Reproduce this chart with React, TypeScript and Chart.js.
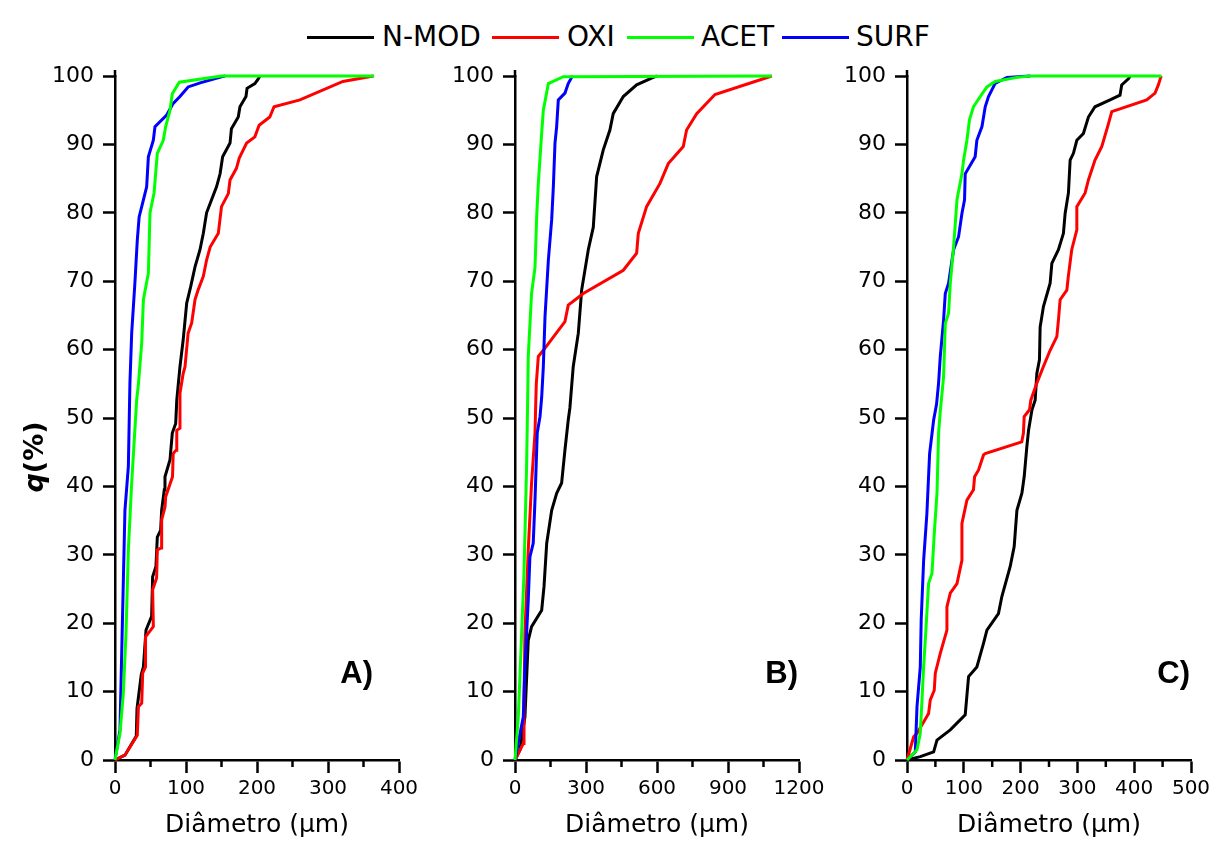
import React, { useEffect, useRef } from "react";
import { Chart, registerables } from "chart.js";

Chart.register(...registerables);

// ---------- data (diameter µm, cumulative q %) ----------
const SERIES_NAMES = ["N-MOD", "OXI", "ACET", "SURF"];
const SERIES_COLORS = ["#000000", "#ff0000", "#00ff00", "#0000ff"];

const A_NMOD = [[0,0],[14,0.7],[30,3.5],[31,7.5],[37,12.5],[40,13.6],[43.7,19],[51.6,21],[53,26.8],[57.7,28.3],[59.6,32.6],[64.3,33.6],[65.7,36.5],[69.4,39.5],[70.4,41.4],[77.5,43.9],[80.7,47.8],[85.5,49.2],[87,52.6],[91.5,57.5],[96,61.4],[101,66.8],[106.6,69.2],[112.7,72.1],[119.7,74.6],[124.4,77],[129,80],[136,81.9],[143,83.8],[148,85.7],[151.6,88.2],[162,90.2],[164,92.3],[173.6,94],[176,95.5],[184.5,97],[186,98.2],[197,98.9],[202,99.6],[204,100]];
const A_OXI = [[0,0],[14,0.7],[31.4,3.6],[33,7.8],[37.6,8.3],[39,12.7],[43,13.6],[43,18],[54,19.5],[53,24.9],[58.6,26.6],[59.6,30.7],[64.8,31],[65.7,35.1],[70.4,37],[71.4,38.5],[81,41.4],[82,44.8],[86,45.3],[87,48.2],[91.5,48.5],[91.5,53.6],[96,56.5],[98.6,57.5],[103,62.4],[108,63.9],[112.7,67.3],[117,68.7],[124.4,70.7],[129,73.1],[134,75],[145.5,77],[150,80.9],[159.6,82.8],[162,84.8],[171,86.5],[175,88],[185.4,90.2],[197,91.1],[203,92.8],[218,94],[224,95.5],[260.5,96.5],[321,99.2],[364,100]];
const A_ACET = [[0,0],[7,3.9],[11.7,9.7],[15.5,18.5],[18.8,30.7],[23.5,40.5],[30.5,52.6],[33,55],[37.6,60.9],[40,67.3],[47,71.2],[49.3,80],[55,82.9],[59.6,88.7],[68,90.6],[71.4,92.6],[77.5,95],[80.7,97.4],[90.6,99.1],[150,100],[365,100]];
const A_SURF = [[0,0],[7,4.4],[14,36.5],[18.8,42.9],[21,55],[23.5,62.4],[28,69.7],[31.4,76],[34,79.4],[40,81.9],[44.6,83.8],[47,88.2],[54,90.6],[56.3,92.6],[72.8,94.3],[82,96],[91.5,97],[103,98.4],[120,99],[150,99.9],[155,100]];

const B_NMOD = [[0,0],[21,1.5],[42,6.3],[56,17.5],[70,19.5],[112.7,21.9],[122.5,25.3],[134,31.7],[155,36.5],[176,39],[197,40.5],[211,45.3],[225,49.7],[232,51.5],[246,57.5],[267.5,62.4],[281.6,68.7],[309.7,74.6],[330.8,77.9],[345,85.3],[373,89.2],[401,92.1],[415,94.5],[457.6,97],[514,98.7],[584,99.8],[600,100]];
const B_OXI = [[0,0],[35,2.4],[38,8.8],[42,18.5],[56,30.7],[70,40.5],[84.5,47.8],[88,52.6],[90,55],[98.6,59],[119.7,59.9],[211,64.1],[225,66.5],[288.6,68.2],[457.6,71.6],[514,74.1],[521,77],[556,80.9],[612.6,84.3],[647.7,87.2],[711,89.7],[725,92.1],[767.7,94.5],[845,97.3],[1085,100]];
const B_ACET = [[0,0],[14,6.3],[28,18.5],[38,27.3],[49,42.9],[53.5,52.6],[56,59],[70,68.2],[84.5,72],[91.5,79.4],[98.6,84.3],[112.7,91.6],[119.7,95],[141,98.9],[204,99.9],[1085,100]];
const B_SURF = [[0,0],[35,6.3],[42,13.6],[56,23.4],[63,29.7],[77,31.7],[84.5,38],[94,47.8],[105.6,50.2],[112.7,53],[119.7,57.5],[126.8,64.8],[141,73.1],[155,79],[162,83.8],[169,90.2],[176,92.6],[183,96.5],[211,97.5],[225,98.9],[239.5,99.8],[245,100]];

const C_NMOD = [[0,0],[23.4,0.5],[46.9,1.2],[52.8,2.9],[76.2,4.4],[102.5,6.6],[108.4,12.2],[123,13.6],[134.8,17.1],[140.7,19],[161,21.4],[167,23.9],[181.7,28.3],[188.7,31.2],[193.5,36.5],[202.3,39],[206.3,41.4],[211,45.8],[214,48.2],[220,51.2],[225.6,52.6],[228.6,56.5],[233.2,58.5],[234.4,63.3],[240.2,66.3],[252,69.7],[255,72.6],[266.6,74.6],[275.4,77],[278.4,79.9],[284.2,82.9],[287.2,87.7],[293,88.7],[299,90.6],[310.6,91.6],[319.4,94],[331,95.5],[357.5,96.5],[375,97.2],[378,98.7],[389.8,99.6],[393,100]];
const C_OXI = [[0,0],[11.7,3.4],[17.6,3.9],[38,6.8],[41,8.8],[48,10.2],[49.8,12.7],[58.6,15.6],[70.3,19],[70.3,22.4],[76.2,24.4],[88,25.8],[96.7,29.2],[96.7,34.6],[105.5,38],[117,39.5],[119,41.4],[126,42.4],[134.7,44.6],[137.7,44.8],[202,46.5],[205,47.8],[206.3,50.2],[215.7,51.2],[218,52.6],[228.6,55.1],[240,57.5],[252,59.9],[263.8,61.9],[266.6,64.3],[269.6,67.3],[281.4,68.7],[284,70.7],[290,74.6],[299,77.5],[299,80.9],[313.6,82.9],[319.4,84.8],[331,87.7],[343,89.7],[354.6,93],[360.5,94.8],[422,96.5],[436.7,97.5],[442.5,98.7],[446.7,99.8],[448,100]];
const C_ACET = [[0,0],[17.6,1.5],[23.4,3.9],[29.3,13.6],[32.2,17.5],[38,25.8],[44,27.3],[48,33.1],[52.8,39],[55.6,47.8],[58.6,51],[64.4,56],[67.4,63.8],[73.2,65.3],[76.2,69.7],[82,75],[85,78.4],[88,81.9],[96.7,85.7],[99.6,87.7],[105.5,90.6],[110,93.6],[117,95.5],[129,97],[140.7,98.4],[155.3,99.2],[193.5,99.8],[217,100],[448,100]];
const C_SURF = [[0,0],[14.6,1.2],[17.6,7.8],[23.4,13.6],[25,20.5],[29.3,29.2],[35,36],[39.8,44.8],[46.9,49.7],[52,52],[55.6,55.1],[58.6,59],[64.4,64.3],[67.4,68.2],[73.2,69.7],[82,74.6],[90.8,76.5],[96.7,79.9],[101.3,81.9],[102.5,85.7],[120,88.2],[123,90.6],[132,92.6],[137.7,95.5],[143.5,97],[155,98.9],[175.9,99.8],[217,100]];

const X_MAX = [400, 1200, 500];
const X_STEP = [50, 150, 50];
const X_MAJOR = [100, 300, 100];
const Y_TICKS = { min: 0, max: 100, step: 10 };
const PANEL_LABELS = ["A)", "B)", "C)"];
const X_TITLE = "Diâmetro (µm)";

// ---------- layout ----------
const FONT = '"DejaVu Sans", sans-serif';
const PANELS = [
  { left: 0, width: 425, padLeft: 45, padRight: 26, labelRight: 373, data: [A_NMOD, A_OXI, A_ACET, A_SURF], yTitle: true },
  { left: 425, width: 405, padLeft: 20, padRight: 31, labelRight: 798, data: [B_NMOD, B_OXI, B_ACET, B_SURF], yTitle: false },
  { left: 830, width: 395, padLeft: 7, padRight: 34, labelRight: 1190, data: [C_NMOD, C_OXI, C_ACET, C_SURF], yTitle: false },
];
const DRAW_ORDER = [4, 3, 1, 2]; // lower = on top

const decoPlugin = {
  id: "deco",
  afterDraw(chart: any, _args: any, opts: any) {
    const { ctx, chartArea, scales } = chart;
    ctx.save();
    ctx.strokeStyle = "#000";
    ctx.lineWidth = 2.5;
    // y axis line slightly extends above the top tick
    ctx.beginPath();
    ctx.moveTo(chartArea.left, chartArea.top + 1);
    ctx.lineTo(chartArea.left, chartArea.top - 6);
    ctx.stroke();
    // minor ticks (shorter)
    scales.x.ticks.forEach((t: any) => {
      if (t.value % opts.major !== 0) {
        const px = scales.x.getPixelForValue(t.value);
        ctx.beginPath();
        ctx.moveTo(px, chartArea.bottom);
        ctx.lineTo(px, chartArea.bottom + 7);
        ctx.stroke();
      }
    });
    ctx.fillStyle = "#000";
    // x title
    ctx.font = `25px ${FONT}`;
    ctx.textAlign = "center";
    ctx.textBaseline = "middle";
    ctx.fillText(X_TITLE, (chartArea.left + chartArea.right) / 2, 825);
    // panel label
    ctx.font = 'bold 31px "Liberation Sans", Arial, sans-serif';
    ctx.textAlign = "right";
    ctx.textBaseline = "alphabetic";
    ctx.fillText(opts.label, opts.labelRight, 683);
    // y title
    if (opts.yTitle) {
      ctx.translate(36, 457);
      ctx.rotate(-Math.PI / 2);
      ctx.textBaseline = "middle";
      ctx.textAlign = "left";
      const f1 = `italic bold 27px ${FONT}`;
      const f2 = `bold 27px ${FONT}`;
      ctx.font = f1;
      const w1 = ctx.measureText("q").width;
      ctx.font = f2;
      const w2 = ctx.measureText("(%)").width;
      const x0 = -(w1 + w2) / 2;
      ctx.font = f1;
      ctx.fillText("q", x0, 0);
      ctx.font = f2;
      ctx.fillText("(%)", x0 + w1, 0);
    }
    ctx.restore();
  },
};

function makeConfig(i: number): any {
  const p = PANELS[i];
  const major = X_MAJOR[i];
  return {
    type: "line",
    data: {
      datasets: p.data.map((pts, k) => ({
        label: SERIES_NAMES[k],
        data: pts.map(([x, y]) => ({ x, y })),
        borderColor: SERIES_COLORS[k],
        backgroundColor: SERIES_COLORS[k],
        borderWidth: 3,
        pointRadius: 0,
        tension: 0,
        fill: false,
        clip: false,
        order: DRAW_ORDER[k],
      })),
    },
    options: {
      responsive: false,
      animation: false,
      devicePixelRatio: 1,
      layout: { padding: { left: p.padLeft, right: p.padRight, top: 76, bottom: 33 } },
      plugins: {
        legend: { display: false },
        tooltip: { enabled: false },
        deco: { major, label: PANEL_LABELS[i], labelRight: p.labelRight - p.left, yTitle: p.yTitle },
      },
      scales: {
        x: {
          type: "linear",
          min: 0,
          max: X_MAX[i],
          afterFit: (s: any) => { s.height = 50; },
          border: { display: true, color: "#000", width: 2.5 },
          grid: {
            display: true,
            drawOnChartArea: false,
            drawTicks: true,
            tickLength: 13,
            tickWidth: 2.5,
            tickColor: (c: any) => (c.tick && c.tick.value % major === 0 ? "#000" : "rgba(0,0,0,0)"),
          },
          ticks: {
            stepSize: X_STEP[i],
            autoSkip: false,
            maxRotation: 0,
            minRotation: 0,
            padding: 4,
            color: "#000",
            font: { family: FONT, size: 20 },
            callback: (v: any) => (v % major === 0 ? String(v) : ""),
          },
        },
        y: {
          type: "linear",
          min: Y_TICKS.min,
          max: Y_TICKS.max,
          afterFit: (s: any) => { s.width = 70; },
          border: { display: true, color: "#000", width: 2.5 },
          grid: {
            display: true,
            drawOnChartArea: false,
            drawTicks: true,
            tickLength: 12,
            tickWidth: 2.5,
            tickColor: "#000",
          },
          ticks: {
            stepSize: Y_TICKS.step,
            padding: 9,
            color: "#000",
            font: { family: FONT, size: 22 },
          },
        },
      },
    },
    plugins: [decoPlugin],
  };
}

const LEGEND_POS = [
  { line: 307, text: 382 },
  { line: 492, text: 567 },
  { line: 627, text: 701 },
  { line: 782, text: 856 },
];

export default function App() {
  const r0 = useRef<HTMLCanvasElement>(null);
  const r1 = useRef<HTMLCanvasElement>(null);
  const r2 = useRef<HTMLCanvasElement>(null);
  const refs = [r0, r1, r2];
  useEffect(() => {
    const charts = refs.map((r, i) => new Chart(r.current as HTMLCanvasElement, makeConfig(i)));
    return () => charts.forEach((c) => c.destroy());
  }, []);
  return (
    <div style={{ position: "absolute", left: 0, top: 0, width: 1225, height: 843, background: "#fff", overflow: "hidden" }}>
      {SERIES_NAMES.map((name, k) => (
        <React.Fragment key={name}>
          <div style={{ position: "absolute", left: LEGEND_POS[k].line, top: 36, width: 67, height: 3, background: SERIES_COLORS[k] }} />
          <span style={{ position: "absolute", left: LEGEND_POS[k].text, top: 23, fontFamily: FONT, fontSize: 28, lineHeight: 1, color: "#000", whiteSpace: "nowrap" }}>{name}</span>
        </React.Fragment>
      ))}
      {PANELS.map((p, i) => (
        <canvas key={i} ref={refs[i]} width={p.width} height={843} style={{ position: "absolute", left: p.left, top: 0, width: p.width, height: 843 }} />
      ))}
    </div>
  );
}
